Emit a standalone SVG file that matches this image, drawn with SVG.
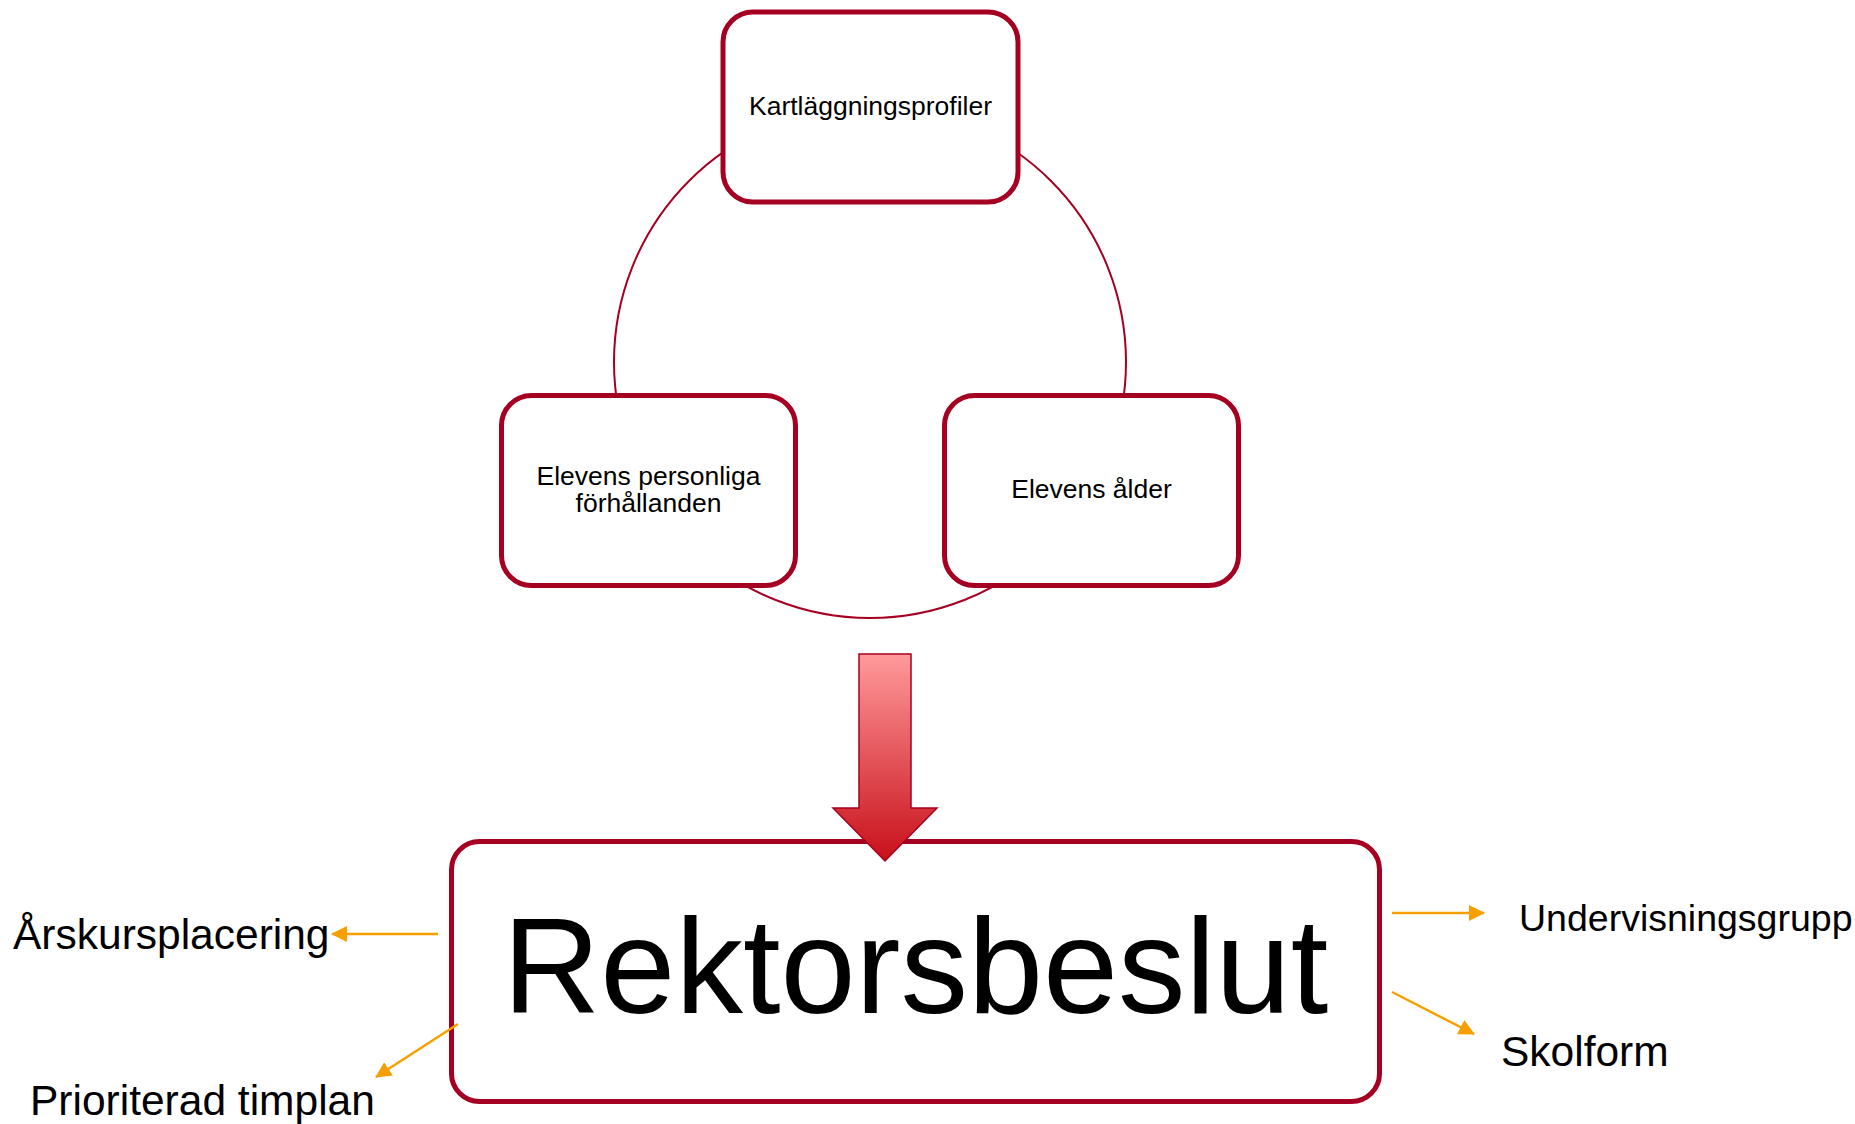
<svg xmlns="http://www.w3.org/2000/svg" width="1855" height="1124" viewBox="0 0 1855 1124">
<style>
.box{fill:#fff;stroke:#A50021;stroke-width:5}
.t{font-family:"Liberation Sans",Arial,sans-serif;fill:#000}
.s{font-size:26.5px;text-anchor:middle}
.lbl{font-size:42.5px}
.o{stroke:#F5A000;stroke-width:2.5;fill:none;marker-end:url(#ah)}
</style>
<defs>
<marker id="ah" markerUnits="userSpaceOnUse" markerWidth="18" markerHeight="16" refX="15" refY="8" orient="auto">
<path d="M0,0 L16,8 L0,16 Z" fill="#F5A000"/>
</marker>
<linearGradient id="ag" x1="0" y1="0" x2="0" y2="1">
<stop offset="0" stop-color="#FF9A9B"/>
<stop offset="1" stop-color="#C8101A"/>
</linearGradient>
</defs>
<g id="cycle">
<circle cx="870" cy="362" r="256" fill="none" stroke="#A50021" stroke-width="2"/>
</g>
<g id="n1">
<rect class="box" x="723" y="12" width="295" height="190" rx="30"/>
<text class="t s" x="870.5" y="115">Kartläggningsprofiler</text>
</g>
<g id="n2">
<rect class="box" x="501.5" y="395.5" width="294" height="190" rx="30"/>
<text class="t s" x="648.5" y="485">Elevens personliga</text>
<text class="t s" x="648.5" y="512">förhållanden</text>
</g>
<g id="n3">
<rect class="box" x="944.5" y="395.5" width="294" height="190" rx="30"/>
<text class="t s" x="1091.5" y="498">Elevens ålder</text>
</g>
<g id="n4">
<rect class="box" x="451.5" y="841.5" width="928" height="260" rx="28"/>
<text class="t" x="915.5" y="1013" font-size="135" text-anchor="middle">Rektorsbeslut</text>
</g>
<g id="bigarrow">
<polygon points="859,654 911,654 911,808 937,808 885,861 833,808 859,808" fill="url(#ag)" stroke="#A50021" stroke-width="1.5" stroke-linejoin="miter"/>
</g>
<g id="connectors">
<line class="o" x1="438" y1="934" x2="332" y2="934"/>
<line class="o" x1="458" y1="1024" x2="376" y2="1077"/>
<line class="o" x1="1392" y1="913" x2="1484" y2="913"/>
<line class="o" x1="1392" y1="992" x2="1474" y2="1034"/>
</g>
<g id="labels">
<text class="t lbl" x="13" y="949">Årskursplacering</text>
<text class="t lbl" x="30" y="1115">Prioriterad timplan</text>
<text class="t" x="1519" y="931" font-size="37.5">Undervisningsgrupp</text>
<text class="t lbl" x="1501" y="1066">Skolform</text>
</g>
</svg>
